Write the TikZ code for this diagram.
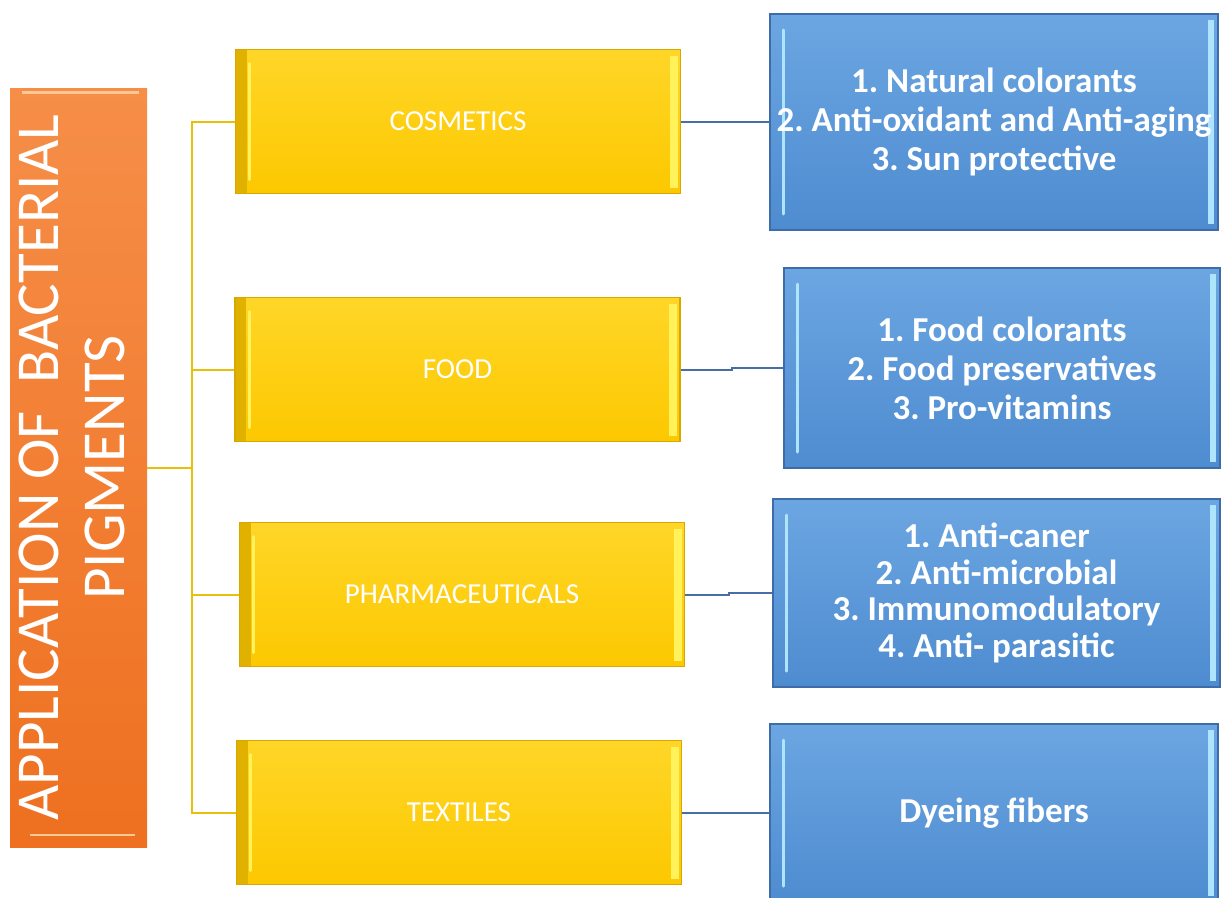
\documentclass[tikz,border=0pt]{standalone}
\usepackage{fontspec}
\setmainfont{Carlito}
\usepackage{graphicx}
\usepackage{xcolor}
\usetikzlibrary{calc}
\frenchspacing
\definecolor{pigtop}{RGB}{246,142,72}
\definecolor{pigbot}{RGB}{238,112,32}
\definecolor{piglight}{RGB}{252,200,150}
\definecolor{ytop}{RGB}{255,214,40}
\definecolor{ybot}{RGB}{252,200,0}
\definecolor{ydark}{RGB}{214,168,0}
\definecolor{ylight}{RGB}{255,242,90}
\definecolor{btop}{RGB}{108,166,226}
\definecolor{bbot}{RGB}{78,140,208}
\definecolor{bdark}{RGB}{62,108,168}
\definecolor{blight}{RGB}{175,228,255}
\definecolor{linegold}{RGB}{232,192,10}
\definecolor{lineblue}{RGB}{72,110,165}

\begin{document}
\begin{tikzpicture}[x=1pt, y=-1pt,      pigbox/.style={rectangle,minimum width=137pt,minimum height=759pt,inner sep=0pt,top color=pigtop,bottom color=pigbot,text=white,font=\fontsize{61}{66}\selectfont,path picture={\draw[piglight,line width=3pt] ([xshift=12pt,yshift=-4pt]path picture bounding box.north west) -- ([xshift=-8pt,yshift=-4pt]path picture bounding box.north east); \draw[piglight,line width=2pt] ([xshift=20pt,yshift=12pt]path picture bounding box.south west) -- ([xshift=-12pt,yshift=12pt]path picture bounding box.south east);}},      areabox/.style={rectangle,minimum width=445pt,minimum height=144pt,inner sep=0pt,draw=ydark,line width=1.5pt,top color=ytop,bottom color=ybot,text=white,font=\fontsize{29}{33}\selectfont,path picture={\fill[ydark!70!ybot] (path picture bounding box.north west) rectangle ([xshift=11pt]path picture bounding box.south west); \draw[ylight,line width=3pt,line cap=round] ([xshift=14pt,yshift=-14pt]path picture bounding box.north west) -- ([xshift=14pt,yshift=14pt]path picture bounding box.south west); \fill[ylight] ([xshift=-11pt,yshift=-6pt]path picture bounding box.north east) rectangle ([xshift=-3pt,yshift=6pt]path picture bounding box.south east);}},      usesbox/.style={rectangle,minimum width=448pt,inner sep=0pt,align=center,draw=bdark,line width=2pt,top color=btop,bottom color=bbot,text=white,font=\bfseries\fontsize{35}{39}\selectfont,path picture={\draw[blight,line width=3pt,line cap=round] ([xshift=13pt,yshift=-16pt]path picture bounding box.north west) -- ([xshift=13pt,yshift=16pt]path picture bounding box.south west); \fill[blight] ([xshift=-10pt,yshift=-6pt]path picture bounding box.north east) rectangle ([xshift=-4pt,yshift=6pt]path picture bounding box.south east);}},      goldline/.style={draw=linegold,line width=2pt},      blueline/.style={draw=lineblue,line width=2pt}  ]
    \useasboundingbox (0,0) rectangle (1225,897);
    \clip (0,0) rectangle (1225,897);
    \node[pigbox] (root) at (78.5,467.5) {\rotatebox{90}{\begin{tabular}{@{}c@{}}APPLICATION OF~~BACTERIAL\\PIGMENTS\end{tabular}}};
    \coordinate (spine) at (192,0);

    \node[areabox] (cos) at (458,121.5) {COSMETICS};
    \node[areabox] (food) at (457.5,369.5) {FOOD};
    \node[areabox] (pharma) at (462,594.5) {PHARMACEUTICALS};
    \node[areabox] (tex) at (459,812.5) {TEXTILES};

    \node[usesbox,minimum height=216pt] (cosl) at (994,122) {1. Natural colorants\\2. Anti-oxidant and Anti-aging\\3. Sun protective};
    \node[usesbox,minimum width=436pt,minimum height=200pt] (foodl) at (1002,368) {1. Food colorants\\2. Food preservatives\\3. Pro-vitamins};
    \node[usesbox,minimum width=447pt,minimum height=188pt,font=\bfseries\fontsize{35}{36.5}\selectfont] (pharmal) at (996.5,593) {1. Anti-caner\\2. Anti-microbial\\3. Immunomodulatory\\4. Anti- parasitic};
    \node[usesbox,minimum height=178pt] (texl) at (994,813) {Dyeing fibers};

    \foreach \n in {cos,food,pharma,tex}
        \draw[goldline] (root.east) -- (root.east -| spine) |- (\n.west);
    \foreach \a/\b in {cos/cosl,food/foodl,pharma/pharmal,tex/texl}
        \draw[blueline] (\a.east) -| ($(\a.east)!.5!(\b.west)$) |- (\b.west);
\end{tikzpicture}
\end{document}
